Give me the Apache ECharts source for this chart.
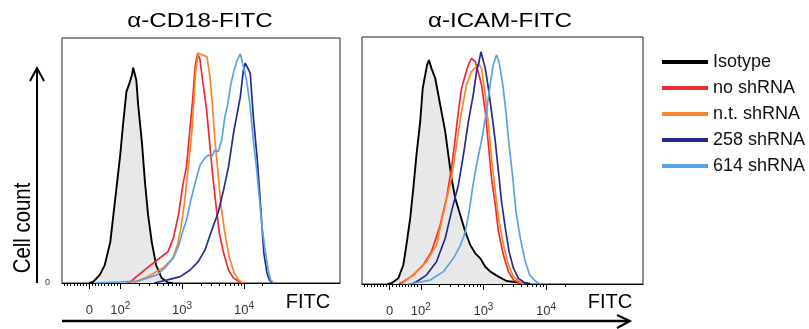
<!DOCTYPE html>
<html>
<head>
<meta charset="utf-8">
<script src="https://cdn.jsdelivr.net/npm/echarts@6/dist/echarts.min.js"></script>
<style>
  html, body { margin: 0; padding: 0; background: #fff; }
  #chart { width: 809px; height: 329px; }
</style>
</head>
<body>
<div id="chart"></div>
<script>
// x is in display units: log10(FITC) above 10^2, linear (logicle style) below, 0 sits at 1.5
// y is cell count in % of the panel height
const seriesNames = ['Isotype', 'no shRNA', 'n.t. shRNA', '258 shRNA', '614 shRNA'];
const seriesColors = ['#000000', '#ee2b30', '#f8862a', '#232c8e', '#5aa2e2'];
const panelTitles = ['α-CD18-FITC', 'α-ICAM-FITC'];

const cd18Isotype = [[1.50,0],[1.56,0.4],[1.67,3.3],[1.75,7.3],[1.84,16.7],[1.89,27.8],[1.94,38.8],[2.00,52.2],[2.05,65.7],[2.10,78.0],[2.15,81.6],[2.19,84.9],[2.21,87.9],[2.26,82.9],[2.29,72.7],[2.35,57.6],[2.40,41.2],[2.45,27.8],[2.51,16.7],[2.58,7.3],[2.67,2.0],[2.77,0.2],[2.85,0]];
const cd18None = [[2.10,0],[2.16,0.4],[2.43,6.1],[2.64,10.2],[2.77,12.7],[2.86,18.4],[2.94,27.8],[3.02,41.2],[3.07,47.3],[3.13,63.7],[3.17,74.7],[3.21,88.3],[3.25,93.8],[3.29,91.0],[3.33,82.9],[3.39,72.0],[3.44,58.4],[3.49,44.9],[3.55,31.1],[3.60,20.4],[3.67,12.2],[3.75,5.3],[3.83,2.0],[3.88,1.2],[3.95,0]];
const cd18Nt = [[2.20,0],[2.43,2.4],[2.69,6.1],[2.85,10.2],[2.93,16.0],[2.99,24.0],[3.04,33.0],[3.10,47.5],[3.16,62.4],[3.19,74.7],[3.22,86.9],[3.26,93.9],[3.32,93.1],[3.40,92.4],[3.45,84.2],[3.49,72.0],[3.53,58.4],[3.58,44.9],[3.63,31.1],[3.69,20.4],[3.76,10.7],[3.84,4.1],[3.91,1.2],[3.98,0]];
const cd18S258 = [[2.55,0],[2.75,1.2],[2.97,2.6],[3.13,5.3],[3.26,8.7],[3.37,13.5],[3.48,21.6],[3.58,28.6],[3.67,38.0],[3.75,47.5],[3.83,61.2],[3.88,67.9],[3.94,76.0],[3.99,86.9],[4.02,89.7],[4.05,90.3],[4.10,85.7],[4.15,67.9],[4.21,51.6],[4.25,38.0],[4.29,23.0],[4.32,12.2],[4.37,4.1],[4.41,1.2],[4.46,0]];
const cd18S614 = [[1.60,0],[2.30,0.8],[2.59,3.3],[2.72,6.1],[2.86,10.2],[2.95,15.5],[3.02,22.0],[3.07,25.5],[3.13,32.7],[3.21,40.8],[3.29,48.2],[3.37,51.0],[3.42,52.2],[3.48,51.6],[3.53,54.3],[3.58,53.6],[3.64,58.4],[3.69,67.9],[3.73,72.0],[3.79,81.5],[3.84,86.9],[3.89,91.0],[3.94,93.5],[3.99,88.3],[4.04,82.9],[4.10,72.0],[4.15,58.4],[4.21,44.9],[4.25,33.9],[4.29,23.0],[4.34,13.5],[4.39,5.3],[4.43,1.2],[4.48,0]];

const icamIsotype = [[1.47,0],[1.53,0.3],[1.64,2.3],[1.72,7.7],[1.77,15.8],[1.83,26.6],[1.88,38.7],[1.93,52.2],[1.99,65.7],[2.03,79.2],[2.07,84.6],[2.10,88.7],[2.13,90.7],[2.17,87.3],[2.23,83.3],[2.28,76.5],[2.33,69.8],[2.39,61.7],[2.44,52.2],[2.49,42.8],[2.55,34.7],[2.63,27.9],[2.71,21.2],[2.79,15.8],[2.87,12.4],[2.95,10.4],[3.03,7.0],[3.11,5.0],[3.24,3.0],[3.37,1.2],[3.53,0.7],[3.69,0.3],[3.75,0]];
const icamNone = [[1.65,0],[1.72,0.9],[1.88,3.6],[2.04,7.7],[2.17,13.1],[2.31,23.9],[2.41,34.7],[2.49,46.8],[2.55,59.0],[2.60,69.8],[2.65,79.2],[2.71,84.6],[2.76,88.7],[2.81,91.3],[2.87,90.0],[2.93,84.6],[2.97,80.6],[3.03,69.8],[3.08,56.3],[3.13,42.8],[3.19,32.0],[3.24,21.2],[3.32,11.7],[3.40,5.0],[3.48,1.6],[3.59,0.3],[3.65,0]];
const icamNt = [[1.70,0],[1.77,1.6],[1.93,5.0],[2.09,9.0],[2.25,15.8],[2.39,32.0],[2.49,42.9],[2.57,56.3],[2.65,69.8],[2.73,80.6],[2.81,86.0],[2.89,88.0],[2.93,89.1],[2.97,87.3],[3.03,76.5],[3.08,64.4],[3.13,50.9],[3.19,37.4],[3.25,25.2],[3.32,15.8],[3.40,7.7],[3.48,3.0],[3.59,0.7],[3.65,0]];
const icamS258 = [[1.85,0],[1.93,0.9],[2.09,3.6],[2.25,9.0],[2.39,18.5],[2.49,29.3],[2.60,40.1],[2.68,52.2],[2.76,65.7],[2.84,77.0],[2.89,86.0],[2.93,90.0],[2.96,94.0],[3.03,87.3],[3.08,79.2],[3.13,69.8],[3.19,57.6],[3.24,45.5],[3.29,33.3],[3.35,22.6],[3.41,13.1],[3.48,6.4],[3.56,2.3],[3.67,0.3],[3.72,0]];
const icamS614 = [[1.80,0],[1.88,0.3],[2.15,1.6],[2.36,5.0],[2.52,10.4],[2.63,15.5],[2.71,21.0],[2.77,29.0],[2.83,39.5],[2.89,48.2],[2.97,58.0],[3.05,70.0],[3.11,81.0],[3.16,89.0],[3.21,92.7],[3.25,90.0],[3.31,80.6],[3.36,69.8],[3.41,56.3],[3.47,42.8],[3.52,29.3],[3.59,18.5],[3.67,9.0],[3.74,3.6],[3.85,0.7],[3.92,0]];

// tick values in FITC units
const majorTickValues = [0, 100, 1000, 10000];
const minorTickValues = [-80, -70, -60, -50, -40, -30, -20, -10, 10, 20, 30, 40, 50, 60, 70, 80, 90,
  200, 300, 400, 500, 600, 700, 800, 900, 2000, 3000, 4000, 5000, 6000, 7000, 8000, 9000, 20000];

const panelData = [
  [cd18Isotype, cd18None, cd18Nt, cd18S258, cd18S614],
  [icamIsotype, icamNone, icamNt, icamS258, icamS614]
];

const X_MIN = 1.06, X_MAX = 5.55;
const FONT = '"Liberation Sans", Arial, sans-serif';

function toAxis(v) {
  return v >= 100 ? Math.log10(v) : 1.5 + v / 200;
}

function tickLabel(value) {
  if (Math.abs(value - 1.5) < 1e-6) return '{n|0}';
  return '{n|10}{s|' + Math.round(value) + '}';
}

const grids = [
  { left: 62, top: 38, width: 278, height: 245 },
  { left: 362, top: 37, width: 281, height: 247 }
];

const xAxes = [];
const yAxes = [];
grids.forEach((g, i) => {
  g.show = true;
  g.borderColor = '#222';
  g.borderWidth = 1;
  xAxes.push({
    type: 'value', gridIndex: i, position: 'bottom', min: X_MIN, max: X_MAX,
    axisLine: { show: true, lineStyle: { color: '#000', width: 1 } },
    axisTick: { show: true, customValues: majorTickValues.map(toAxis), length: 6, lineStyle: { color: '#000' } },
    axisLabel: {
      customValues: majorTickValues.map(toAxis), margin: 18, formatter: tickLabel,
      rich: {
        n: { fontSize: 13, fontFamily: FONT, color: '#333', lineHeight: 16, verticalAlign: 'bottom' },
        s: { fontSize: 10, fontFamily: FONT, color: '#333', lineHeight: 16, verticalAlign: 'top' }
      }
    },
    splitLine: { show: false }
  });
  xAxes.push({
    type: 'value', gridIndex: i, position: 'bottom', min: X_MIN, max: X_MAX,
    axisLine: { show: false },
    axisTick: { show: true, customValues: minorTickValues.map(toAxis), length: 3, lineStyle: { color: '#000' } },
    axisLabel: { show: false },
    splitLine: { show: false }
  });
  yAxes.push({
    type: 'value', gridIndex: i, min: 0, max: 100,
    axisLine: { show: false }, axisTick: { show: false }, splitLine: { show: false },
    axisLabel: { show: i === 0, customValues: [0], fontSize: 9, color: '#333', fontFamily: FONT, margin: 12 }
  });
});

const series = [];
panelData.forEach((curves, p) => {
  curves.forEach((data, s) => {
    const item = {
      type: 'line', name: seriesNames[s], data: data,
      xAxisIndex: p * 2, yAxisIndex: p,
      showSymbol: false, symbol: 'none', animation: false,
      lineStyle: { color: seriesColors[s], width: s === 0 ? 1.9 : 1.7 },
      itemStyle: { color: seriesColors[s] },
      z: s === 0 ? 1 : 2
    };
    if (s === 0) {
      item.areaStyle = { color: '#e8e8e8', opacity: 1 };
      item.markLine = {
        silent: true, symbol: ['none', 'none'], animation: false,
        label: { show: false },
        lineStyle: { color: '#000', width: 2, type: 'solid' },
        data: [[{ coord: [toAxis(-110), 0] }, { coord: [toAxis(25000), 0] }]]
      };
    }
    series.push(item);
  });
});

function arrowHead(points) {
  return { type: 'polyline', shape: { points: points }, style: { stroke: '#000', lineWidth: 2, fill: null } };
}

const option = {
  backgroundColor: '#fff',
  animation: false,
  grid: grids,
  xAxis: xAxes,
  yAxis: yAxes,
  series: series,
  legend: {
    orient: 'vertical', left: 657, top: 48,
    itemWidth: 46, itemHeight: 4, itemGap: 8,
    icon: 'rect',
    textStyle: { fontSize: 18, fontFamily: FONT, color: '#111' },
    data: seriesNames.map((n, i) => ({ name: n, icon: 'rect', itemStyle: { color: seriesColors[i] } }))
  },
  graphic: [
    { type: 'text', x: 200, y: 21, scaleX: 1.15,
      style: { text: panelTitles[0], font: '21px ' + FONT, fill: '#000', textAlign: 'center', textVerticalAlign: 'middle', align: 'center', verticalAlign: 'middle' } },
    { type: 'text', x: 500, y: 21, scaleX: 1.15,
      style: { text: panelTitles[1], font: '21px ' + FONT, fill: '#000', textAlign: 'center', textVerticalAlign: 'middle', align: 'center', verticalAlign: 'middle' } },
    { type: 'text', x: 308, y: 302,
      style: { text: 'FITC', font: '20px ' + FONT, fill: '#000', textAlign: 'center', textVerticalAlign: 'middle', align: 'center', verticalAlign: 'middle' } },
    { type: 'text', x: 610, y: 302,
      style: { text: 'FITC', font: '20px ' + FONT, fill: '#000', textAlign: 'center', textVerticalAlign: 'middle', align: 'center', verticalAlign: 'middle' } },
    { type: 'text', x: 23, y: 228, rotation: Math.PI / 2, scaleX: 0.85,
      style: { text: 'Cell count', font: '24px ' + FONT, fill: '#000', textAlign: 'center', textVerticalAlign: 'middle', align: 'center', verticalAlign: 'middle' } },
    { type: 'line', shape: { x1: 37, y1: 283, x2: 37, y2: 69 }, style: { stroke: '#000', lineWidth: 2 } },
    arrowHead([[30, 81], [37, 68], [44, 81]]),
    { type: 'line', shape: { x1: 62, y1: 321, x2: 629, y2: 321 }, style: { stroke: '#000', lineWidth: 2.5 } },
    arrowHead([[617, 315], [630, 321], [617, 328]])
  ]
};

const chart = echarts.init(document.getElementById('chart'));
chart.setOption(option);
</script>
</body>
</html>
